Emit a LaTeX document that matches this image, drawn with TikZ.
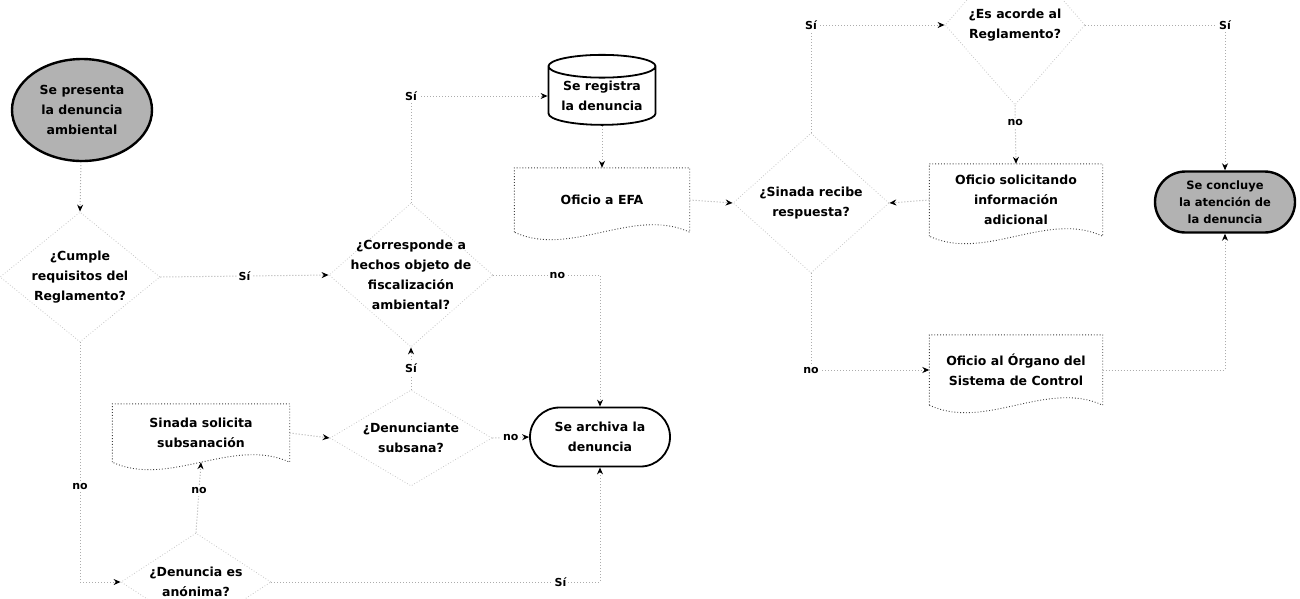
\documentclass[tikz,border=0pt]{standalone}
\usepackage{fontspec}
\setmainfont{DejaVu Sans}
\usetikzlibrary{shapes.geometric,shapes.misc,arrows.meta,calc}
\newcommand\docoutline[1]{\draw[docline] (#1.south west) -- (#1.north west) -- (#1.north east) -- (#1.south east) .. controls ($(#1.south west)!0.68!(#1.south east)+(0,-26)$) and ($(#1.south west)!0.32!(#1.south east)+(0,26)$) .. (#1.south west);}
\begin{document}
\begin{tikzpicture}[x=1pt,y=-1pt,
 every node/.style={font=\fontsize{12.5}{20}\selectfont\bfseries, align=center, inner sep=0pt, text=black},
 conn/.style={gray!65, dotted, line width=1pt, -{Stealth[black,length=7pt,width=6pt]}},
 lbl/.style={font=\fontsize{11}{13}\selectfont\bfseries, text=black, fill=white, inner sep=2pt},
 dia/.style={diamond, draw=gray!45, dotted, line width=0.8pt},
 txt/.style={},
 docbox/.style={rectangle, draw=none},
 docline/.style={black!75, dotted, line width=0.9pt},
 term/.style={rounded rectangle, draw, line width=1.8pt},
 darkterm/.style={draw, line width=2.4pt, fill=gray!60},
]
\useasboundingbox (0,0) rectangle (1300,598);
\clip (0,0) rectangle (1300,598);

% terminals
\node[ellipse, darkterm, minimum width=140pt, minimum height=102pt] (start) at (82,110) {Se presenta\\la denuncia\\ambiental};
\node[rounded rectangle, darkterm, minimum width=140pt, minimum height=61pt, font=\fontsize{11.5}{17}\selectfont\bfseries] (end) at (1225,202) {Se concluye\\la atención de\\la denuncia};
\node[term, minimum width=140pt, minimum height=59pt] (arc) at (600,437) {Se archiva la\\denuncia};

% decisions
\node[dia, minimum width=160pt, minimum height=130pt] (cum) at (80,277) {};
\node[txt] (cumt) at (cum) {¿Cumple\\requisitos del\\Reglamento?};
\node[dia, minimum width=164pt, minimum height=144pt] (cor) at (411,275) {};
\node[txt] (cort) at (cor) {¿Corresponde a\\hechos objeto de\\fiscalización\\ambiental?};
\node[dia, minimum width=162pt, minimum height=96pt] (den) at (411,438) {};
\node[txt] (dent) at (den) {¿Denunciante\\subsana?};
\node[dia, minimum width=150pt, minimum height=98pt] (ano) at (196,582) {};
\node[txt] (anot) at (ano) {¿Denuncia es\\anónima?};
\node[dia, minimum width=156pt, minimum height=140pt] (sin) at (811,203) {};
\node[txt] (sint) at (sin) {¿Sinada recibe\\respuesta?};
\node[dia, minimum width=140pt, minimum height=160pt] (es) at (1015,25) {};
\node[txt] (est) at (es) {¿Es acorde al\\Reglamento?};

% process boxes
\node[cylinder, shape border rotate=90, aspect=0.28, draw, line width=1.8pt, minimum width=107pt, minimum height=70pt] (cyl) at (602,96) {Se registra\\la denuncia};
\node[docbox, minimum width=175pt, minimum height=64pt] (efa) at (602,200) {Oficio a EFA};
\node[docbox, minimum width=173pt, minimum height=72pt] (sol) at (1016,200) {Oficio solicitando\\información\\adicional};
\node[docbox, minimum width=173pt, minimum height=70pt] (org) at (1016,370) {Oficio al Órgano del\\Sistema de Control};
\node[docbox, minimum width=177pt, minimum height=58pt] (sub) at (201,433) {Sinada solicita\\subsanación};
\docoutline{efa}
\docoutline{sol}
\docoutline{org}
\docoutline{sub}

% connectors
\draw[conn] (start) -- (cum.north);
\draw[conn] (cum.east) -- node[lbl]{Sí} (cor.west);
\draw[conn] (cor.north) |- node[lbl, pos=0.5]{Sí} (cyl.west);
\draw[conn] (cor.east) -| node[lbl, pos=0.3]{no} (arc.north);
\draw[conn] (cyl.south) -- (efa.north);
\draw[conn] (efa.east) -- (sin.west);
\draw[conn] (sin.north) |- node[lbl, pos=0.5]{Sí} (es.west);
\draw[conn] (es.south) -- node[lbl, pos=0.3]{no} (sol.north);
\draw[conn] (es.east) -| node[lbl, pos=0.5]{Sí} (end.north);
\draw[conn] (sol.west) -- (sin.east);
\draw[conn] (sin.south) |- node[lbl, pos=0.5]{no} (org.west);
\draw[conn] (org.east) -| (end.south);
\draw[conn] (cum.south) |- node[lbl, pos=0.3]{no} (ano.west);
\draw[conn] (ano.north) -- node[lbl, pos=0.6]{no} (sub.south);
\draw[conn] (sub.east) -- (den.west);
\draw[conn] (den.north) -- node[lbl]{Sí} (cor.south);
\draw[conn] (den.east) -- node[lbl]{no} (arc.west);
\draw[conn] (ano.east) -| node[lbl, pos=0.44]{Sí} (arc.south);
\end{tikzpicture}
\end{document}
